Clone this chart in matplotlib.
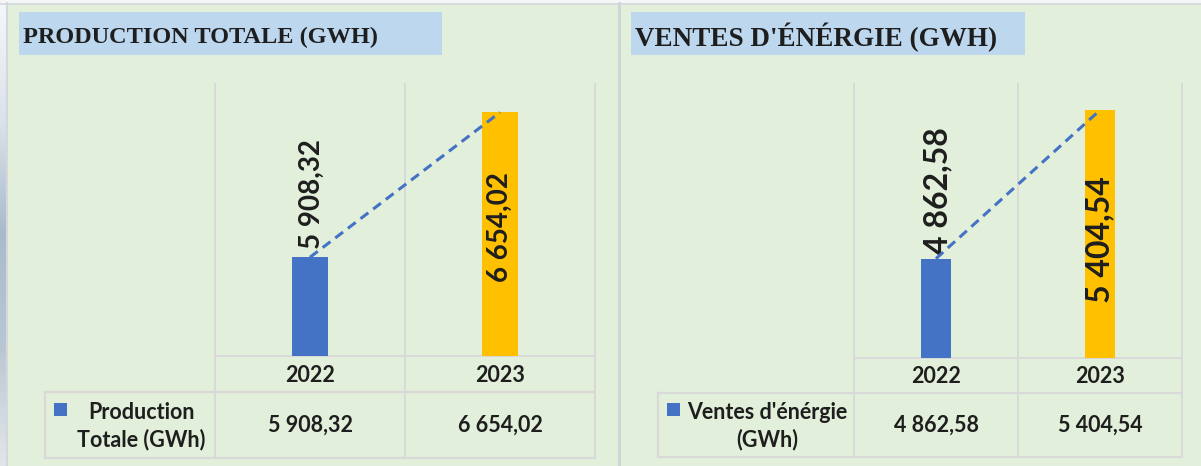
import numpy as np
import matplotlib.pyplot as plt
from matplotlib.colors import LinearSegmentedColormap
from matplotlib.patches import Rectangle

# data
years = ['2022', '2023']
production = [5908.32, 6654.02]
ventes = [4862.58, 5404.54]
prod_ylim = (5400, 6800)
ventes_ylim = (4500, 5500)
titles = ['PRODUCTION TOTALE (GWH)', "VENTES D'ÉNÉRGIE (GWH)"]
legend_names = ['Production\nTotale (GWh)', "Ventes d'énérgie\n(GWh)"]

W, H = 1201, 466
BG = '#E2EFDA'
BLUE = '#4472C4'
GOLD = '#FFC000'
GRID = '#D9D9D9'
INK = '#1E1E1E'

plt.rcParams['font.family'] = ['Lato', 'DejaVu Sans']


def fmt(v):
    return f'{v:,.2f}'.replace(',', ' ').replace('.', ',')


def px_axes(fig, x0, y0, x1, y1):
    # axes from a pixel box (y measured from the top)
    return fig.add_axes([x0 / W, 1 - y1 / H, (x1 - x0) / W, (y1 - y0) / H])


def draw_panel(fig, bg, values, ylim, title, legend_name, L):
    gx = L['grid_x']

    # title box
    x0, y0, x1, y1 = L['title_box']
    bg.add_patch(Rectangle((x0, y0), x1 - x0, y1 - y0, color='#BDD7EE', lw=0))
    bg.text(x0 + 4, (y0 + y1) / 2 + 4, title, family='Liberation Serif',
            fontweight='bold', fontsize=L['title_size'], color=INK,
            ha='left', va='center')

    # grid / data table lines
    for x in gx:
        bg.plot([x, x], [L['plot_top'], L['table_bottom']], color=GRID, lw=1.4)
    bg.plot([gx[0], gx[-1]], [L['axis_y']] * 2, color=GRID, lw=1.4)
    for y in (L['table_top'], L['table_bottom']):
        bg.plot([L['table_left'], gx[-1]], [y, y], color=GRID, lw=1.6)
    bg.plot([L['table_left']] * 2, [L['table_top'], L['table_bottom']], color=GRID, lw=1.6)

    centers = [(gx[i] + gx[i + 1]) / 2 for i in range(len(years))]
    for c, yr, v in zip(centers, years, values):
        bg.text(c, (L['axis_y'] + L['table_top']) / 2 + 1, yr, fontsize=15.5,
                fontweight='bold', color=INK, ha='center', va='center')
        bg.text(c, (L['table_top'] + L['table_bottom']) / 2, fmt(v), fontsize=15.5,
                fontweight='bold', color=INK, ha='center', va='center')

    # legend key
    sx, sy = L['key']
    bg.add_patch(Rectangle((sx, sy), 13, 13, color=BLUE, lw=0))
    bg.text(L['key_text_x'], (L['table_top'] + L['table_bottom']) / 2 + 1, legend_name,
            fontsize=15.5, fontweight='bold', color=INK, ha='center', va='center',
            multialignment='center', linespacing=1.3)

    # bars
    ax = px_axes(fig, gx[0], L['plot_top'], gx[-1], L['axis_y'])
    ax.set_facecolor('none')
    x = np.arange(len(values))
    ax.bar(x, values, width=0.185, color=[BLUE, GOLD], zorder=2)

    # linear trend
    coef = np.polyfit(x, values, 1)
    ax.plot(x, np.polyval(coef, x), color=BLUE, lw=2.2, ls=(0, (3.2, 2.0)),
            zorder=4, clip_on=False)

    ax.annotate(fmt(values[0]), (0, values[0]), xytext=(1, L['gap']),
                textcoords='offset points', rotation=90, ha='center', va='bottom',
                fontsize=L['label_size'], fontweight='bold', color=INK, zorder=3)
    ax.annotate(fmt(values[1]), (1, (ylim[0] + values[1]) / 2),
                xytext=(0, L['mid_shift']), textcoords='offset points', rotation=90,
                ha='center', va='center', fontsize=L['label_size'],
                fontweight='bold', color=INK, zorder=3)

    ax.set_xlim(-0.5, len(values) - 0.5)
    ax.set_ylim(*ylim)
    ax.axis('off')
    return ax


fig = plt.figure(figsize=(W / 100, H / 100), dpi=100, facecolor=BG)
bg = fig.add_axes([0, 0, 1, 1])
bg.set_facecolor(BG)

# left edge gradient and top strip
edge = LinearSegmentedColormap.from_list(
    'edge', ['#F5F7FA', '#DCE3EB', '#A9BBCB', '#BAC7D3', '#E2E6EA'])
bg.imshow(np.linspace(0, 1, 200).reshape(-1, 1), cmap=edge, aspect='auto',
          extent=(0, 6, H, 0), zorder=1)
bg.add_patch(Rectangle((0, 0), W, 3, color='#F4F6F8', lw=0, zorder=1))
bg.plot([0, W], [3.5, 3.5], color='#D4D8DC', lw=1.2)
bg.plot([6.5, 6.5], [3, H], color='#D4D8DC', lw=1.5)
bg.plot([618.5, 618.5], [3, H], color='#D0D4D8', lw=2)

layouts = [
    dict(grid_x=[215, 405, 595], plot_top=84, axis_y=356, table_top=392,
         table_bottom=458, table_left=45, title_box=(19, 12, 442, 55),
         title_size=17.5, key=(54, 403), key_text_x=141, label_size=20, gap=6,
         mid_shift=5),
    dict(grid_x=[854, 1018, 1182], plot_top=84, axis_y=358, table_top=393,
         table_bottom=457, table_left=658, title_box=(631, 12, 1025, 55),
         title_size=19.5, key=(667, 403), key_text_x=767, label_size=23, gap=3,
         mid_shift=-4),
]

for vals, lim, title, name, L in zip([production, ventes], [prod_ylim, ventes_ylim],
                                     titles, legend_names, layouts):
    draw_panel(fig, bg, vals, lim, title, name, L)

bg.set_xlim(0, W)
bg.set_ylim(H, 0)
bg.axis('off')

fig.savefig('out.png', dpi=100, facecolor=BG)
